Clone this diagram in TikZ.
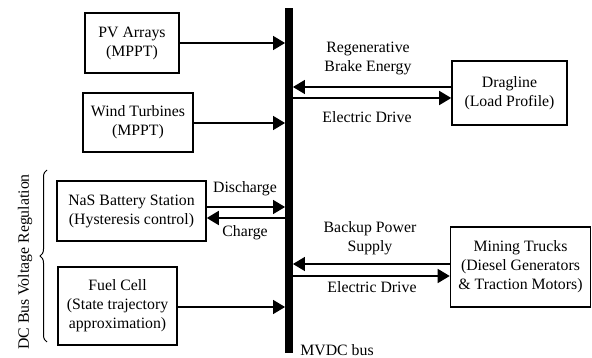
\documentclass[tikz,border=0pt]{standalone}
\usepackage{fontspec}
\setmainfont{Liberation Serif}
\usetikzlibrary{arrows.meta,decorations.pathreplacing}
\begin{document}
\begin{tikzpicture}[x=1pt,y=-1pt,
  every node/.style={font=\fontsize{15.8}{19}\selectfont, inner sep=0pt},
  blk/.style={draw, line width=1.6pt, align=center},
  lbl/.style={align=center},
  flow/.style={line width=1.6pt, -{Triangle[length=12pt,width=14pt]}},
  rflow/.style={line width=1.6pt, {Triangle[length=12pt,width=14pt]}-}]
\useasboundingbox (0,0) rectangle (592,358);
% bus
\node[fill=black, minimum width=7.5pt, minimum height=345pt] (bus) at (289,180.5) {};
% sources
\node[blk, minimum width=94pt, minimum height=60pt] (pv) at (132,43) {PV Arrays\\(MPPT)};
\node[blk, minimum width=110pt, minimum height=59pt] (wind) at (138,122.5) {Wind Turbines\\(MPPT)};
\node[blk, minimum width=149pt, minimum height=60pt] (nas) at (131.5,211) {NaS Battery Station\\(Hysteresis control)};
\node[blk, minimum width=119pt, minimum height=78pt] (fuel) at (117.5,306) {Fuel Cell\\(State trajectory\\approximation)};
% loads
\node[blk, minimum width=115pt, minimum height=64pt] (drag) at (509.5,93) {Dragline\\(Load Profile)};
\node[blk, minimum width=140pt, minimum height=80pt] (truck) at (520.5,267) {Mining Trucks\\(Diesel Generators\\\& Traction Motors)};
% connectors
\draw[flow] (pv.east |- 0,43) -- (bus.west |- 0,43);
\draw[flow] (wind.east |- 0,123) -- (bus.west |- 0,123);
\draw[flow] (nas.east |- 0,207) -- (bus.west |- 0,207);
\draw[rflow] (nas.east |- 0,218) -- (bus.west |- 0,218);
\draw[flow] (fuel.east |- 0,307) -- (bus.west |- 0,307);
\draw[rflow] (bus.east |- 0,87) -- (drag.west |- 0,87);
\draw[flow] (bus.east |- 0,98) -- (drag.west |- 0,98);
\draw[rflow] (bus.east |- 0,264) -- (truck.west |- 0,264);
\draw[flow] (bus.east |- 0,276) -- (truck.west |- 0,276);
% labels
\node[lbl] (l1) at (368,58) {Regenerative\\Brake Energy};
\node[lbl] (l2) at (367,117) {Electric Drive};
\node[lbl] (l3) at (245,189) {Discharge};
\node[lbl] (l4) at (245,233) {Charge};
\node[lbl] (l5) at (370,238.5) {Backup Power\\Supply};
\node[lbl] (l6) at (372,287) {Electric Drive};
\node[lbl, anchor=base] (l7) at (337,355.5) {MVDC bus};
% brace
\coordinate (bb) at (47,342);
\coordinate (bt) at (47,170);
\draw[line width=1pt, decorate, decoration={brace, amplitude=7pt}] (bb) -- (bt);
\node[rotate=90] (dc) at (25,262) {DC Bus Voltage Regulation};
\end{tikzpicture}
\end{document}
